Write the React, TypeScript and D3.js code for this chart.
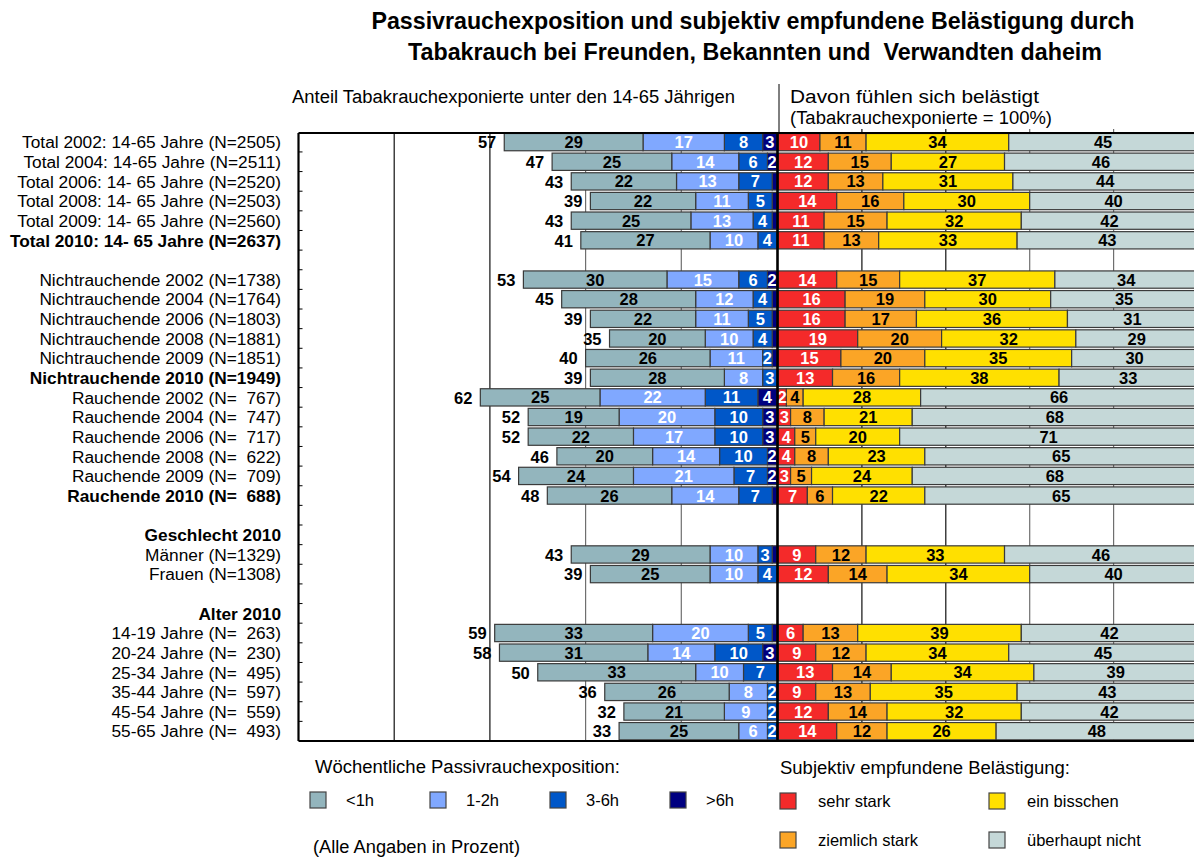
import React from "react";
import * as d3 from "d3";

const rowLabels = [
  "Total 2002: 14-65 Jahre (N=2505)",
  "Total 2004: 14-65 Jahre (N=2511)",
  "Total 2006: 14- 65 Jahre (N=2520)",
  "Total 2008: 14- 65 Jahre (N=2503)",
  "Total 2009: 14- 65 Jahre (N=2560)",
  "Total 2010: 14- 65 Jahre (N=2637)",
  "",
  "Nichtrauchende 2002 (N=1738)",
  "Nichtrauchende 2004 (N=1764)",
  "Nichtrauchende 2006 (N=1803)",
  "Nichtrauchende 2008 (N=1881)",
  "Nichtrauchende 2009 (N=1851)",
  "Nichtrauchende 2010 (N=1949)",
  "Rauchende 2002 (N=  767)",
  "Rauchende 2004 (N=  747)",
  "Rauchende 2006 (N=  717)",
  "Rauchende 2008 (N=  622)",
  "Rauchende 2009 (N=  709)",
  "Rauchende 2010 (N=  688)",
  "",
  "Geschlecht 2010",
  "Männer (N=1329)",
  "Frauen (N=1308)",
  "",
  "Alter 2010",
  "14-19 Jahre (N=  263)",
  "20-24 Jahre (N=  230)",
  "25-34 Jahre (N=  495)",
  "35-44 Jahre (N=  597)",
  "45-54 Jahre (N=  559)",
  "55-65 Jahre (N=  493)",
];
const boldRows = [5, 12, 18, 20, 24];

// Weekly passive smoke exposure (% of 14-65 year olds)
const exposedTotal = [57, 47, 43, 39, 43, 41, null, 53, 45, 39, 35, 40, 39, 62, 52, 52, 46, 54, 48, null, null, 43, 39, null, null, 59, 58, 50, 36, 32, 33];
const expLess1h = [29, 25, 22, 22, 25, 27, null, 30, 28, 22, 20, 26, 28, 25, 19, 22, 20, 24, 26, null, null, 29, 25, null, null, 33, 31, 33, 26, 21, 25];
const exp1to2h = [17, 14, 13, 11, 13, 10, null, 15, 12, 11, 10, 11, 8, 22, 20, 17, 14, 21, 14, null, null, 10, 10, null, null, 20, 14, 10, 8, 9, 6];
const exp3to6h = [8, 6, 7, 5, 4, 4, null, 6, 4, 5, 4, 2, 3, 11, 10, 10, 10, 7, 7, null, null, 3, 4, null, null, 5, 10, 7, 2, 2, 2];
const expOver6h = [3, 2, 1, 1, 1, 0, null, 2, 1, 1, 1, 1, 0, 4, 3, 3, 2, 2, 1, null, null, 1, 0, null, null, 1, 3, 0, 0, 0, 0];

// Subjective annoyance (exposed = 100%)
const veryStrong = [10, 12, 12, 14, 11, 11, null, 14, 16, 16, 19, 15, 13, 2, 3, 4, 4, 3, 7, null, null, 9, 12, null, null, 6, 9, 13, 9, 12, 14];
const fairlyStrong = [11, 15, 13, 16, 15, 13, null, 15, 19, 17, 20, 20, 16, 4, 8, 5, 8, 5, 6, null, null, 12, 14, null, null, 13, 12, 14, 13, 14, 12];
const aLittle = [34, 27, 31, 30, 32, 33, null, 37, 30, 36, 32, 35, 38, 28, 21, 20, 23, 24, 22, null, null, 33, 34, null, null, 39, 34, 34, 35, 32, 26];
const notAtAll = [45, 46, 44, 40, 42, 43, null, 34, 35, 31, 29, 30, 33, 66, 68, 71, 65, 68, 65, null, null, 46, 40, null, null, 42, 45, 39, 43, 42, 48];

const leftSeries = [
  { name: ">6h", values: expOver6h, color: "#000080", text: "#ffffff" },
  { name: "3-6h", values: exp3to6h, color: "#0057C8", text: "#ffffff" },
  { name: "1-2h", values: exp1to2h, color: "#80A8FF", text: "#ffffff" },
  { name: "<1h", values: expLess1h, color: "#93B5BD", text: "#000000" },
];
const rightSeries = [
  { name: "sehr stark", values: veryStrong, color: "#F42A2A", text: "#ffffff" },
  { name: "ziemlich stark", values: fairlyStrong, color: "#FBA526", text: "#000000" },
  { name: "ein bisschen", values: aLittle, color: "#FFE000", text: "#000000" },
  { name: "überhaupt nicht", values: notAtAll, color: "#C5D8D8", text: "#000000" },
];
const legendLeft = ["<1h", "1-2h", "3-6h", ">6h"];
const gridTicks = [20, 40, 60, 80];

const FONT = "'Liberation Sans', Arial, Helvetica, sans-serif";

export default function App() {
  const W = 1194;
  const H = 857;
  const top = 133;
  const bottom = 741;
  const mid = 777.5;
  const leftEdge = 298.5;

  const y = d3
    .scaleBand<number>()
    .domain(d3.range(rowLabels.length))
    .range([top - 0.7, bottom])
    .paddingInner(0.12)
    .paddingOuter(0.06);
  const xL = d3.scaleLinear().domain([0, 100]).range([mid - 0.5, leftEdge]);
  const xR = d3.scaleLinear().domain([0, 100]).range([mid + 0.5, mid + 420]);
  const bw = y.bandwidth();
  const step = y.step();

  const stackRow = (series: typeof leftSeries, i: number) => {
    let acc = 0;
    return series.map((s) => {
      const v = s.values[i];
      const start = acc;
      acc += v ?? 0;
      return { v, start, end: acc, s };
    });
  };
  const leftStacks = rowLabels.map((_, i) => stackRow(leftSeries, i));
  const rightStacks = rowLabels.map((_, i) => stackRow(rightSeries, i));

  const cy = (i: number) => (y(i) ?? 0) + bw / 2;

  return (
    <svg
      width={W}
      height={H}
      style={{ position: "absolute", left: 0, top: 0, background: "#fff" }}
      fontFamily={FONT}
    >
      {/* Title */}
      <text x={753} y={29} textAnchor="middle" fontWeight="bold" fontSize={23} textLength={763} lengthAdjust="spacingAndGlyphs">
        Passivrauchexposition und subjektiv empfundene Belästigung durch
      </text>
      <text x={755} y={60} textAnchor="middle" fontWeight="bold" fontSize={23} textLength={694} lengthAdjust="spacingAndGlyphs" style={{ whiteSpace: "pre" }}>
        Tabakrauch bei Freunden, Bekannten und  Verwandten daheim
      </text>

      {/* Panel headers */}
      <text x={292} y={103} fontSize={18} textLength={443} lengthAdjust="spacingAndGlyphs">
        Anteil Tabakrauchexponierte unter den 14-65 Jährigen
      </text>
      <text x={790} y={103} fontSize={18} textLength={249} lengthAdjust="spacingAndGlyphs">
        Davon fühlen sich belästigt
      </text>
      <text x={790} y={124} fontSize={18} textLength={262} lengthAdjust="spacingAndGlyphs">
        (Tabakrauchexponierte = 100%)
      </text>
      <line x1={779} x2={779} y1={84} y2={top} stroke="#000" strokeWidth={1} />

      {/* Grid lines */}
      {gridTicks.map((t) => (
        <line key={"gl" + t} x1={xL(t)} x2={xL(t)} y1={top} y2={bottom} stroke={t >= 60 ? "#111" : "#6f6f6f"} strokeWidth={1.2} />
      ))}
      {gridTicks.map((t) => (
        <line key={"gr" + t} x1={xR(t)} x2={xR(t)} y1={top - 4} y2={bottom} stroke={t <= 40 ? "#111" : "#6f6f6f"} strokeWidth={1.2} />
      ))}

      {/* Row labels */}
      {rowLabels.map((lab, i) =>
        lab ? (
          <text
            key={"rl" + i}
            x={281}
            y={cy(i)}
            dy="0.36em"
            textAnchor="end"
            fontSize={17.3}
            fontWeight={boldRows.includes(i) ? "bold" : "normal"}
            style={{ whiteSpace: "pre" }}
          >
            {lab}
          </text>
        ) : null
      )}

      {/* Left stacked bars */}
      {leftStacks.map((segs, i) =>
        segs.map((d, j) =>
          d.v != null && d.v > 0 ? (
            <rect
              key={`lb${i}-${j}`}
              x={xL(d.end)}
              y={y(i)}
              width={xL(d.start) - xL(d.end)}
              height={bw}
              fill={d.s.color}
              stroke="#3a3a3a"
              strokeWidth={1.2}
            />
          ) : null
        )
      )}
      {leftStacks.map((segs, i) =>
        segs.map((d, j) =>
          d.v != null && d.v >= 2 ? (
            <text
              key={`lt${i}-${j}`}
              x={(xL(d.start) + xL(d.end)) / 2}
              y={cy(i)}
              dy="0.37em"
              textAnchor="middle"
              fontWeight="bold"
              fontSize={16.5}
              fill={d.s.text}
            >
              {d.v}
            </text>
          ) : null
        )
      )}
      {exposedTotal.map((t, i) =>
        t != null ? (
          <text
            key={"tot" + i}
            x={xL(leftStacks[i][3].end) - 8}
            y={cy(i)}
            dy="0.38em"
            textAnchor="end"
            fontWeight="bold"
            fontSize={16.5}
          >
            {t}
          </text>
        ) : null
      )}

      {/* Right stacked bars */}
      {rightStacks.map((segs, i) =>
        segs.map((d, j) =>
          d.v != null && d.v > 0 ? (
            <rect
              key={`rb${i}-${j}`}
              x={xR(d.start)}
              y={y(i)}
              width={xR(d.end) - xR(d.start)}
              height={bw}
              fill={d.s.color}
              stroke="#3a3a3a"
              strokeWidth={1.2}
            />
          ) : null
        )
      )}
      {rightStacks.map((segs, i) =>
        segs.map((d, j) =>
          d.v != null && d.v >= 2 ? (
            <text
              key={`rt${i}-${j}`}
              x={(xR(d.start) + xR(d.end)) / 2}
              y={cy(i)}
              dy="0.37em"
              textAnchor="middle"
              fontWeight="bold"
              fontSize={16.5}
              fill={d.s.text}
            >
              {d.v}
            </text>
          ) : null
        )
      )}

      {/* Frame */}
      <line x1={leftEdge} x2={W} y1={top} y2={top} stroke="#000" strokeWidth={2.2} />
      <line x1={leftEdge} x2={W} y1={bottom} y2={bottom} stroke="#000" strokeWidth={2.2} />
      <line x1={leftEdge} x2={leftEdge} y1={top} y2={bottom} stroke="#000" strokeWidth={2.2} />
      <line x1={mid} x2={mid} y1={top} y2={bottom} stroke="#000" strokeWidth={2.6} />
      {d3.range(1, rowLabels.length).map((i) => (
        <line key={"tk" + i} x1={leftEdge} x2={leftEdge + 4} y1={top - 0.7 + i * step} y2={top - 0.7 + i * step} stroke="#000" strokeWidth={1} />
      ))}

      {/* Legend */}
      <text x={315} y={773} fontSize={18} textLength={305} lengthAdjust="spacingAndGlyphs">
        Wöchentliche Passivrauchexposition:
      </text>
      {legendLeft.map((name, k) => {
        const s = leftSeries.find((q) => q.name === name)!;
        const x0 = 310 + k * 120;
        return (
          <g key={"ll" + name}>
            <rect x={x0} y={792} width={16} height={16} fill={s.color} stroke="#444" strokeWidth={1.2} />
            <text x={x0 + 36} y={806} fontSize={16.5}>
              {name}
            </text>
          </g>
        );
      })}
      <text x={313} y={853} fontSize={18} textLength={207} lengthAdjust="spacingAndGlyphs">
        (Alle Angaben in Prozent)
      </text>

      <text x={780} y={774} fontSize={18} textLength={290} lengthAdjust="spacingAndGlyphs">
        Subjektiv empfundene Belästigung:
      </text>
      {rightSeries.map((s, k) => {
        const col = k === 0 || k === 1 ? 0 : 1;
        const row = k === 0 || k === 2 ? 0 : 1;
        const xx = col === 0 ? 780 : 989;
        const yy = row === 0 ? 793 : 832;
        return (
          <g key={"rl" + s.name}>
            <rect x={xx} y={yy} width={16} height={16} fill={s.color} stroke="#444" strokeWidth={1.2} />
            <text x={xx + 38} y={yy + 14} fontSize={16.5}>
              {s.name}
            </text>
          </g>
        );
      })}
    </svg>
  );
}
